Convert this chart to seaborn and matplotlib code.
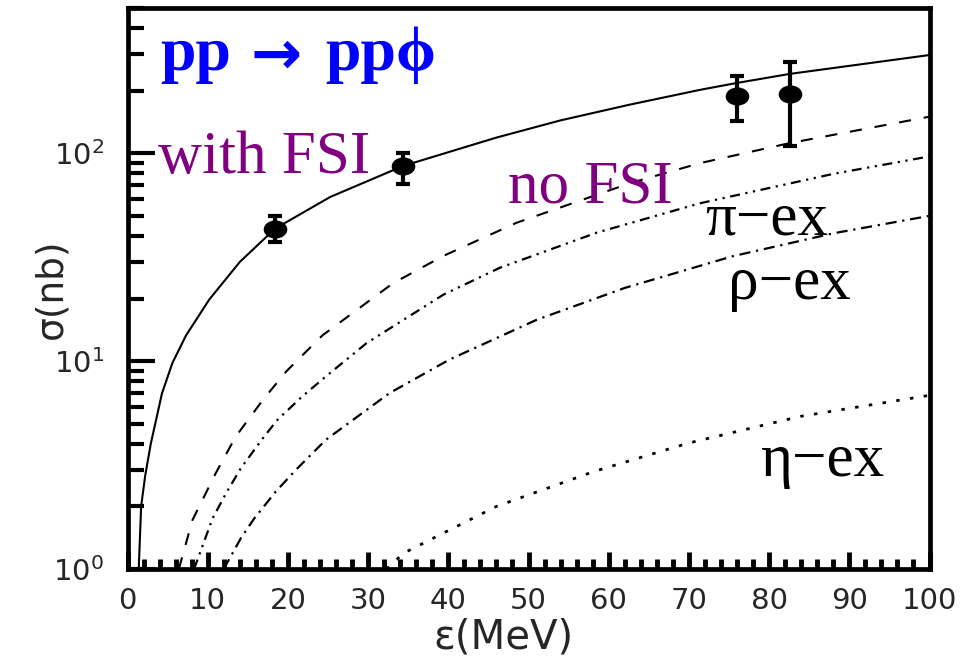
import numpy as np
import matplotlib
matplotlib.use("Agg")
import matplotlib.pyplot as plt
import seaborn as sns
from matplotlib.ticker import MultipleLocator, LogLocator, NullFormatter, FixedLocator
from matplotlib.path import Path
from matplotlib.transforms import Affine2D

# ---------------- data ----------------
# theory curves: epsilon (MeV) vs sigma (nb)
x_fsi = [1.4, 1.7, 2.2, 2.9, 4.3, 5.6, 7.3, 10.2, 14.0, 18.4, 25.3, 34.4, 46.0, 54.0, 62.5, 71.4, 76.0, 82.6, 100]
y_fsi = [1.0, 2.0, 2.8, 4.0, 7.0, 9.8, 13.3, 19.8, 30.0, 43.4, 61.7, 87.0, 119, 144, 171, 202, 218, 241, 297]

x_nofsi = [6.4, 8.1, 11.0, 13.5, 16.9, 19.8, 24.3, 33.1, 39.4, 48.5, 62.7, 71.4, 82.6, 100]
y_nofsi = [1.0, 1.72, 2.89, 4.34, 6.52, 8.93, 13.3, 23.7, 32.1, 46.3, 71.9, 89.7, 112, 150]

x_pi = [8.3, 10.6, 12.3, 14.15, 16.9, 18.7, 21.8, 24.75, 29.8, 39.4, 46.4, 58.5, 71.4, 88.0, 100]
y_pi = [1.0, 1.75, 2.32, 3.06, 4.27, 5.22, 6.77, 8.45, 12.2, 20.9, 28.1, 41.5, 57.5, 79.6, 96.6]

x_rho = [12.0, 14.15, 15.8, 18.5, 21.0, 24.75, 32.7, 40.2, 51.0, 62.0, 75.5, 88.0, 100]
y_rho = [1.0, 1.41, 1.75, 2.36, 3.0, 4.19, 7.03, 10.2, 15.8, 22.5, 32.0, 41.2, 50.0]

x_eta = [32.3, 34.4, 39.4, 46.0, 58.1, 69.9, 83.85, 100]
y_eta = [1.0, 1.19, 1.49, 2.0, 2.94, 4.03, 5.42, 6.85]

# experimental points
x_pts = [18.4, 34.4, 76.0, 82.6]
y_pts = [43.4, 87.0, 189.0, 192.0]
y_low = [37.4, 70.9, 143.0, 109.0]
y_high = [49.9, 100.8, 236.0, 274.0]

# labels
x_ticks = [0, 10, 20, 30, 40, 50, 60, 70, 80, 90, 100]
y_ticks = [1, 10, 100]

# ---------------- styling ----------------
sns.set_theme(style="ticks")
plt.rcParams['font.family'] = ['DejaVu Sans']
plt.rcParams['mathtext.default'] = 'regular'

fig = plt.figure(figsize=(9.76, 6.61), dpi=100)
ax = fig.add_axes([127.5 / 976, 1 - 569 / 661, 802 / 976, 561 / 661])

curves = [
    (x_fsi, y_fsi, '-', 1.5),
    (x_nofsi, y_nofsi, (0, (5.8, 6.2)), 1.5),
    (x_pi, y_pi, (0, (4.5, 2.5, 1.0, 2.5, 1.0, 2.5)), 1.6),
    (x_rho, y_rho, (0, (5.0, 2.6, 1.0, 2.6)), 1.6),
    (x_eta, y_eta, (0, (1.25, 3.75)), 2.0),
]
for xs, ys, ls, lw in curves:
    sns.lineplot(x=xs, y=ys, ax=ax, color='black', linewidth=lw,
                 sort=False, estimator=None)
    ax.lines[-1].set_linestyle(ls)

# error bars
yerr = [np.array(y_pts) - np.array(y_low), np.array(y_high) - np.array(y_pts)]
ax.errorbar(x_pts, y_pts, yerr=yerr, fmt='none', ecolor='black',
            elinewidth=3.0, capsize=4.7, capthick=3.0, zorder=4)

circ = Path.unit_circle()
ell = Path(Affine2D().scale(1.3, 1.0).transform(circ.vertices), circ.codes)
sns.scatterplot(x=x_pts, y=y_pts, ax=ax, marker=ell, s=17 ** 2,
                color='black', edgecolor='black', linewidth=0, zorder=5)

ax.set_yscale('log')
ax.set_xlim(0, 100)
ax.set_ylim(1, 500)

ax.xaxis.set_major_locator(FixedLocator(x_ticks))
ax.xaxis.set_minor_locator(MultipleLocator(2))
ax.yaxis.set_major_locator(FixedLocator(y_ticks))
ax.yaxis.set_minor_locator(LogLocator(base=10, subs=np.arange(2, 10), numticks=20))
ax.yaxis.set_minor_formatter(NullFormatter())

for sp in ax.spines.values():
    sp.set_visible(True)
    sp.set_color('black')
    sp.set_linewidth(3.4)

ax.set_xlabel("\u03b5(MeV)", fontsize=29, color='#262626')
ax.set_ylabel("\u03c3(nb)", fontsize=27, color='#262626')
ax.xaxis.set_label_coords(0.469, -0.086)
ax.yaxis.set_label_coords(-0.072, 0.5)

serif = ['Liberation Serif', 'DejaVu Serif']
ax.text(4.05, 251, "pp", color='#0000ff', fontsize=46, fontweight='bold',
        family=serif, va='baseline', ha='left')
ax.text(15.3, 290, "\u2192", color='#0000ff', fontsize=44, fontweight='bold',
        family=['DejaVu Sans'], va='center', ha='left')
ax.text(24.6, 251, "pp\u03d5", color='#0000ff', fontsize=46, fontweight='bold',
        family=serif, va='baseline', ha='left')
ax.text(3.8, 80.7, "with FSI", color='#800080', fontsize=44, family=serif,
        va='baseline', ha='left')
ax.text(47.4, 57.9, "no FSI", color='#800080', fontsize=44, family=serif,
        va='baseline', ha='left')
ax.text(72.0, 40.7, "\u03c0\u2212ex", color='black', fontsize=44, family=serif,
        va='baseline', ha='left')
ax.text(74.9, 19.8, "\u03c1\u2212ex", color='black', fontsize=44, family=serif,
        va='baseline', ha='left')
ax.text(78.9, 2.79, "\u03b7\u2212ex", color='black', fontsize=44, family=serif,
        va='baseline', ha='left')

# tick styling
ax.tick_params(axis='y', which='major', direction='in', length=19.5, width=3,
               labelsize=21, pad=17, left=True, right=False, color='black',
               labelcolor='#262626')
ax.tick_params(axis='y', which='minor', direction='in', length=11.5, width=3,
               left=True, right=False, color='black')
ax.tick_params(axis='x', which='major', direction='in', length=12.5, width=3.5,
               labelsize=21, pad=13, bottom=True, top=False, color='black',
               labelcolor='#262626')
ax.tick_params(axis='x', which='minor', direction='in', length=7.5, width=3.5,
               bottom=True, top=False, color='black')

fig.savefig("out.png", dpi=100)
